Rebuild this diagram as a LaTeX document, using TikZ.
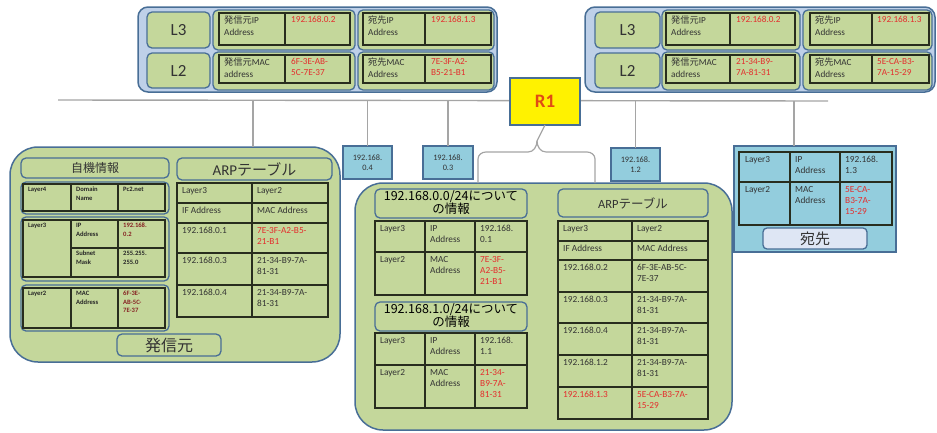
\documentclass[tikz,border=0pt]{standalone}
\usepackage{fontspec}
\setmainfont{Carlito}
\newfontfamily\jp{Noto Sans CJK JP}
\definecolor{grn}{RGB}{196,215,155}
\definecolor{bord}{RGB}{72,110,150}
\definecolor{ltblue}{RGB}{190,208,232}
\definecolor{aqua}{RGB}{147,205,221}
\definecolor{lav}{RGB}{222,230,244}
\definecolor{redt}{RGB}{228,45,45}
\definecolor{dred}{RGB}{135,35,35}
\definecolor{tline}{RGB}{40,45,30}
\definecolor{connc}{RGB}{165,165,165}
\definecolor{rone}{RGB}{225,75,20}
\newcommand\rbox[7]{\node[#6, minimum width={(#4-#2)*1pt}, minimum height={(#5-#3)*1pt}] (#1) at ({(#2+#4)/2},{(#3+#5)/2}) {#7};}
\newcommand\tb[4]{\draw[tbl] (#1,#2) rectangle (#3,#4);}
\newcommand\ct[4][]{\node[cell,#1] (#2) at (#3) {#4};}
\begin{document}
\begin{tikzpicture}[x=1pt,y=-1pt,
  gbox/.style={draw=bord, line width=1.3pt, fill=grn, rounded corners=5pt, inner sep=0pt, outer sep=0pt},
  hdr/.style={draw=bord, line width=1.5pt, fill=ltblue, rounded corners=10pt, inner sep=0pt, outer sep=0pt},
  panel/.style={draw=bord, line width=1.5pt, fill=grn, rounded corners=28pt, inner sep=0pt, outer sep=0pt},
  ipbox/.style={draw=bord, line width=1.3pt, fill=aqua, inner sep=0pt, outer sep=0pt, align=center, font=\fontsize{8.3}{9.8}\selectfont, text=black!80},
  tbl/.style={draw=tline, line width=1.1pt},
  cell/.style={anchor=north west, inner sep=0pt, align=left, text=black!80, font=\fontsize{9.3}{11.3}\selectfont},
  hcell/.style={cell, font=\fontsize{9.2}{11.5}\selectfont},
  scell/.style={cell, font=\fontsize{6.6}{8.6}\selectfont\bfseries, text=black!85},
  rd/.style={text=redt},
  conn/.style={draw=connc, line width=1.4pt}
]
\useasboundingbox (0,0) rectangle (937,432);

% ---------- bus ----------
\coordinate (busL) at (58,100);
\coordinate (busR) at (828,101);
\draw[conn] (busL) -- (busR);

% ---------- top-left header ----------
\rbox{hA}{138}{7}{497}{92}{hdr}{}
\rbox{aL3}{147}{12}{210}{48}{gbox}{\fontsize{17}{17}\selectfont\color{black!80}L3}
\rbox{aL2}{147}{53}{210}{88}{gbox}{\fontsize{17}{17}\selectfont\color{black!80}L2}
\rbox{aG1}{213}{10}{355}{50}{gbox}{}
\rbox{aG2}{358}{10}{494}{50}{gbox}{}
\rbox{aG3}{213}{52}{355}{90}{gbox}{}
\rbox{aG4}{358}{52}{494}{90}{gbox}{}
\tb{219}{13}{350}{45}\draw[tbl] (285,13)--(285,45);
\tb{363}{13}{491}{45}\draw[tbl] (425,13)--(425,45);
\tb{219}{55}{350}{83}\draw[tbl] (285,55)--(285,83);
\tb{363}{55}{491}{83}\draw[tbl] (425,55)--(425,83);
\ct[hcell]{a1}{224,16}{{\jp 発信元}IP\\Address}
\ct[hcell,rd]{a2}{291,16}{192.168.0.2}
\ct[hcell]{a3}{368,16}{{\jp 宛先}IP\\Address}
\ct[hcell,rd]{a4}{431,16}{192.168.1.3}
\ct[hcell]{a5}{224,58}{{\jp 発信元}MAC\\address}
\ct[hcell,rd]{a6}{291,58}{6F-3E-AB-\\5C-7E-37}
\ct[hcell]{a7}{368,58}{{\jp 宛先}MAC\\Address}
\ct[hcell,rd]{a8}{431,58}{7E-3F-A2-\\B5-21-B1}

% ---------- top-right header ----------
\rbox{hB}{585}{7}{935}{92}{hdr}{}
\rbox{bL3}{595}{12}{660}{48}{gbox}{\fontsize{17}{17}\selectfont\color{black!80}L3}
\rbox{bL2}{595}{53}{660}{88}{gbox}{\fontsize{17}{17}\selectfont\color{black!80}L2}
\rbox{bG1}{662}{10}{800}{50}{gbox}{}
\rbox{bG2}{803}{10}{932}{50}{gbox}{}
\rbox{bG3}{662}{52}{800}{90}{gbox}{}
\rbox{bG4}{803}{52}{932}{90}{gbox}{}
\tb{666}{13}{795}{45}\draw[tbl] (730,13)--(730,45);
\tb{810}{13}{929}{45}\draw[tbl] (872,13)--(872,45);
\tb{666}{55}{795}{83}\draw[tbl] (730,55)--(730,83);
\tb{810}{55}{929}{83}\draw[tbl] (872,55)--(872,83);
\ct[hcell]{b1}{671,16}{{\jp 発信元}IP\\Address}
\ct[hcell,rd]{b2}{736,16}{192.168.0.2}
\ct[hcell]{b3}{815,16}{{\jp 宛先}IP\\Address}
\ct[hcell,rd]{b4}{877,16}{192.168.1.3}
\ct[hcell]{b5}{671,58}{{\jp 発信元}MAC\\address}
\ct[hcell,rd]{b6}{736,58}{21-34-B9-\\7A-81-31}
\ct[hcell]{b7}{815,58}{{\jp 宛先}MAC\\Address}
\ct[hcell,rd]{b8}{877,58}{5E-CA-B3-\\7A-15-29}

% ---------- R1 ----------
\rbox{R1}{510}{78}{580}{125}{draw=bord, line width=1.3pt, fill=yellow, inner sep=0pt, outer sep=0pt}{\fontsize{19}{19}\selectfont\bfseries\color{rone}R1}

% ---------- left panel (sender) ----------
\rbox{lp}{10}{147}{340}{362}{panel}{}
\rbox{selfinfo}{21}{158}{169}{178}{gbox}{\jp\fontsize{12}{12}\selectfont\color{black!80}自機情報}
\rbox{lg4}{21}{182}{169}{214}{gbox}{}
\rbox{lg3}{21}{217}{169}{281}{gbox}{}
\rbox{lg2}{21}{285}{169}{331}{gbox}{}
\tb{23}{184}{165}{211}\draw[tbl] (71,184)--(71,211) (118,184)--(118,211);
\tb{23}{220}{165}{277}\draw[tbl] (71,220)--(71,277) (118,220)--(118,277) (71,248)--(165,248);
\tb{23}{288}{165}{328}\draw[tbl] (71,288)--(71,328) (118,288)--(118,328);
\ct[scell]{l1}{28,187}{Layer4}
\ct[scell]{l2}{76,187}{Domain\\Name}
\ct[scell]{l3}{123,187}{Pc2.net}
\ct[scell]{l4}{28,223}{Layer3}
\ct[scell]{l5}{76,223}{IP\\Address}
\ct[scell,text=dred]{l6}{123,223}{192.168.\\0.2}
\ct[scell]{l7}{76,251}{Subnet\\Mask}
\ct[scell]{l8}{123,251}{255.255.\\255.0}
\ct[scell]{l9}{28,291}{Layer2}
\ct[scell]{l10}{76,291}{MAC\\Address}
\ct[scell,text=dred]{l11}{123,291}{6F-3E-\\AB-5C-\\7E-37}
\rbox{arpL}{177}{158}{332}{180}{gbox}{\fontsize{15}{15}\selectfont\color{black!80}ARP{\jp テーブル}}
\tb{177}{183}{328}{317}
\draw[tbl] (252,183)--(252,317) (177,203)--(328,203) (177,223)--(328,223) (177,253)--(328,253) (177,285)--(328,285);
\ct{m1}{182,187}{Layer3}
\ct{m2}{257,187}{Layer2}
\ct{m3}{182,207}{IF Address}
\ct{m4}{257,207}{MAC Address}
\ct{m5}{182,227}{192.168.0.1}
\ct[rd]{m6}{257,227}{7E-3F-A2-B5-\\21-B1}
\ct{m7}{182,257}{192.168.0.3}
\ct{m8}{257,257}{21-34-B9-7A-\\81-31}
\ct{m9}{182,289}{192.168.0.4}
\ct{m10}{257,289}{21-34-B9-7A-\\81-31}
\rbox{sender}{117}{334}{221}{356}{gbox}{\jp\fontsize{16}{16}\selectfont\color{black!80}発信元}

% ---------- IP boxes ----------
\rbox{ip04}{343}{146}{392}{179}{ipbox}{192.168.\\0.4}
\rbox{ip03}{423}{146}{473}{179}{ipbox}{192.168.\\0.3}
\rbox{ip12}{611}{148}{660}{181}{ipbox}{192.168.\\1.2}

% ---------- middle panel (router) ----------
\rbox{mp}{355}{183}{732}{430}{panel}{}
\rbox{net0}{375}{189}{527}{218}{gbox}{\begin{tabular}{@{}c@{}}\jp\fontsize{12.5}{13.5}\selectfont 192.168.0.0/24について\\[-1pt]\jp\fontsize{12.5}{13.5}\selectfont の情報\end{tabular}}
\tb{375}{221}{527}{295}\draw[tbl] (425,221)--(425,295) (475,221)--(475,295) (375,252)--(527,252);
\ct{n1}{380,225}{Layer3}
\ct{n2}{430,225}{IP\\Address}
\ct{n3}{480,225}{192.168.\\0.1}
\ct{n4}{380,256}{Layer2}
\ct{n5}{430,256}{MAC\\Address}
\ct[rd]{n6}{480,256}{7E-3F-\\A2-B5-\\21-B1}
\rbox{net1}{375}{302}{527}{331}{gbox}{\begin{tabular}{@{}c@{}}\jp\fontsize{12.5}{13.5}\selectfont 192.168.1.0/24について\\[-1pt]\jp\fontsize{12.5}{13.5}\selectfont の情報\end{tabular}}
\tb{375}{333}{527}{408}\draw[tbl] (425,333)--(425,408) (475,333)--(475,408) (375,365)--(527,365);
\ct{o1}{380,337}{Layer3}
\ct{o2}{430,337}{IP\\Address}
\ct{o3}{480,337}{192.168.\\1.1}
\ct{o4}{380,369}{Layer2}
\ct{o5}{430,369}{MAC\\Address}
\ct[rd]{o6}{480,369}{21-34-\\B9-7A-\\81-31}
\rbox{arpM}{558}{189}{708}{217}{gbox}{\fontsize{12.5}{12.5}\selectfont\color{black!80}ARP{\jp テーブル}}
\tb{558}{221}{708}{419}
\draw[tbl] (632,221)--(632,419) (558,241)--(708,241) (558,260)--(708,260) (558,292)--(708,292) (558,323)--(708,323) (558,355)--(708,355) (558,387)--(708,387);
\ct{p1}{563,225}{Layer3}
\ct{p2}{637,225}{Layer2}
\ct{p3}{563,245}{IF Address}
\ct{p4}{637,245}{MAC Address}
\ct{p5}{563,264}{192.168.0.2}
\ct{p6}{637,264}{6F-3E-AB-5C-\\7E-37}
\ct{p7}{563,296}{192.168.0.3}
\ct{p8}{637,296}{21-34-B9-7A-\\81-31}
\ct{p9}{563,327}{192.168.0.4}
\ct{p10}{637,327}{21-34-B9-7A-\\81-31}
\ct{p11}{563,359}{192.168.1.2}
\ct{p12}{637,359}{21-34-B9-7A-\\81-31}
\ct[rd]{p13}{563,391}{192.168.1.3}
\ct[rd]{p14}{637,391}{5E-CA-B3-7A-\\15-29}

% ---------- destination ----------
\rbox{dest}{734}{146}{896}{252}{draw=bord, line width=1.3pt, fill=aqua, inner sep=0pt, outer sep=0pt}{}
\tb{739}{152}{892}{225}\draw[tbl] (790,152)--(790,225) (840,152)--(840,225) (739,182)--(892,182);
\ct{q1}{745,156}{Layer3}
\ct{q2}{795,156}{IP\\Address}
\ct{q3}{845,156}{192.168.\\1.3}
\ct{q4}{745,186}{Layer2}
\ct{q5}{795,186}{MAC\\Address}
\ct[rd]{q6}{845,186}{5E-CA-\\B3-7A-\\15-29}
\rbox{destlab}{763}{228}{867}{249}{draw=bord, line width=1.3pt, fill=lav, rounded corners=4pt, inner sep=0pt, outer sep=0pt}{\jp\fontsize{15}{15}\selectfont\color{black!80}宛先}

% ---------- drops from bus ----------
\coordinate (tapL) at (253,100);
\draw[conn] (tapL) -- (tapL |- lp.north);
\draw[conn] (ip04.north) -- (ip04.north |- busL);
\draw[conn] (ip03.north) -- (ip03.north |- busL);
\draw[conn] (ip12.north) -- (ip12.north |- busR);
\coordinate (tapR) at (794,101);
\draw[conn] (tapR) -- (tapR |- dest.north);
% brace from R1 to router panel
\coordinate (brL) at (478,0);
\coordinate (brR) at (595,0);
\draw[conn, line width=1.2pt] (brL |- mp.north) -- (478,159) to[out=90,in=180] (486,152) -- (528,152) to[out=0,in=270] (537,141) -- (R1.south);
\draw[conn, line width=1.2pt] (brR |- mp.north) -- (595,159) to[out=90,in=0] (587,152) -- (546,152) to[out=180,in=270] (537,141);
\end{tikzpicture}
\end{document}
